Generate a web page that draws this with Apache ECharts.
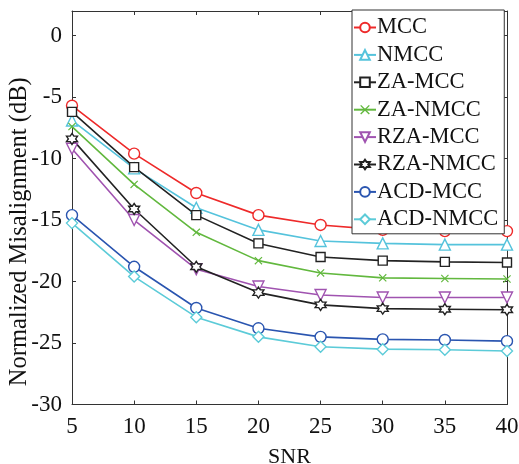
<!DOCTYPE html>
<html>
<head>
<meta charset="utf-8">
<script src="https://cdn.jsdelivr.net/npm/echarts@6/dist/echarts.min.js"></script>
<style>
  html, body { margin: 0; padding: 0; background: #fff; }
  #main { width: 519px; height: 464px; }
</style>
</head>
<body>
<div id="main"></div>
<script>
// SNR values on the x axis
var snr = [5, 10, 15, 20, 25, 30, 35, 40];
// normalized misalignment (dB), one array per algorithm
var mcc     = [-5.7, -9.6, -12.8, -14.6, -15.4, -15.8, -15.9, -15.9];
var nmcc    = [-6.9, -10.8, -14.0, -15.8, -16.7, -16.9, -17.0, -17.0];
var zaMcc   = [-6.2, -10.7, -14.6, -16.9, -18.0, -18.3, -18.4, -18.45];
var zaNmcc  = [-7.4, -12.1, -16.0, -18.3, -19.3, -19.7, -19.75, -19.8];
var rzaMcc  = [-9.2, -15.0, -19.0, -20.4, -21.1, -21.3, -21.3, -21.3];
var rzaNmcc = [-8.4, -14.1, -18.8, -20.9, -21.9, -22.2, -22.25, -22.3];
var acdMcc  = [-14.6, -18.8, -22.15, -23.8, -24.5, -24.7, -24.75, -24.85];
var acdNmcc = [-15.25, -19.6, -22.9, -24.5, -25.3, -25.5, -25.55, -25.65];
var yTicks = [-30, -25, -20, -15, -10, -5, 0];

var myChart = echarts.init(document.getElementById('main'));

var font = '"Liberation Serif", "Times New Roman", serif';
var hexagram = 'path://M100 0L128.9 50L186.6 50L157.7 100L186.6 150L128.9 150L100 200L71.1 150L13.4 150L42.3 100L13.4 50L71.1 50Z';
var cross = 'path://M0 10L10 0L50 40L90 0L100 10L60 50L100 90L90 100L50 60L10 100L0 90L40 50Z';

function pairs(ys) {
    return snr.map(function (x, i) { return [x, ys[i]]; });
}

// 一条曲线
function line(name, ys, color, symbol, size, rotate, filled) {
    return {
        name: name,
        type: 'line',
        data: pairs(ys),
        symbol: symbol,
        symbolSize: size,
        symbolRotate: rotate || 0,
        showSymbol: true,
        lineStyle: { color: color, width: 1.6 },
        itemStyle: filled
            ? { color: color }
            : { color: '#fff', borderColor: color, borderWidth: 1.4 },
        emphasis: { disabled: true },
        z: 3
    };
}

var axisLine = { show: true, onZero: false, lineStyle: { color: '#333', width: 1 } };
var axisTick = { show: true, inside: true, length: 4, lineStyle: { color: '#333', width: 1 } };

var option = {
    backgroundColor: '#fff',
    animation: false,
    textStyle: { fontFamily: font },
    grid: { left: 72, right: 12, top: 11, bottom: 59.5, containLabel: false, outerBoundsMode: 'none' },
    legend: {
        orient: 'vertical',
        left: 352,
        top: 10,
        padding: [6, 6, 3, 1],
        itemGap: 4.4,
        itemWidth: 22,
        itemHeight: 12,
        backgroundColor: '#fff',
        borderColor: '#333',
        borderWidth: 1,
        borderRadius: 0,
        textStyle: { fontFamily: font, fontSize: 22.5, color: '#111', lineHeight: 22, padding: [0, 0, 0, -4] },
        z: 10
    },
    xAxis: [{
        type: 'value',
        min: 5, max: 40, interval: 5,
        name: 'SNR',
        nameLocation: 'middle',
        nameGap: 42,
        nameTextStyle: { fontFamily: font, fontSize: 22, color: '#111' },
        axisLine: axisLine,
        axisTick: axisTick,
        axisLabel: { fontFamily: font, fontSize: 23, color: '#111', margin: 11 },
        splitLine: { show: false }
    }, {
        type: 'value', position: 'top',
        min: 5, max: 40, interval: 5,
        axisLine: axisLine, axisTick: axisTick,
        axisLabel: { show: false }, splitLine: { show: false }
    }],
    yAxis: [{
        type: 'value',
        min: yTicks[0], max: 2, interval: 5,
        name: 'Normalized Misalignment (dB)',
        nameLocation: 'middle',
        nameGap: 40,
        nameMoveOverlap: false,
        nameTextStyle: { fontFamily: font, fontSize: 24.5, color: '#111', padding: [0, 48, 0, 0] },
        axisLine: axisLine,
        axisTick: axisTick,
        axisLabel: { fontFamily: font, fontSize: 23, color: '#111', margin: 10, showMaxLabel: false },
        splitLine: { show: false }
    }, {
        type: 'value', position: 'right',
        min: yTicks[0], max: 2, interval: 5,
        axisLine: axisLine, axisTick: axisTick,
        axisLabel: { show: false }, splitLine: { show: false }
    }],
    series: [
        line('MCC', mcc, '#ee2a2a', 'circle', 11),
        line('NMCC', nmcc, '#55c3dc', 'triangle', 11),
        line('ZA-MCC', zaMcc, '#222', 'rect', 9),
        line('ZA-NMCC', zaNmcc, '#62b83e', cross, 8, 0, true),
        line('RZA-MCC', rzaMcc, '#a053b0', 'triangle', 11, 180),
        line('RZA-NMCC', rzaNmcc, '#222', hexagram, 11),
        line('ACD-MCC', acdMcc, '#2a55b0', 'circle', 11),
        line('ACD-NMCC', acdNmcc, '#5ccbd8', 'diamond', 11)
    ]
};
myChart.setOption(option);
</script>
</body>
</html>
